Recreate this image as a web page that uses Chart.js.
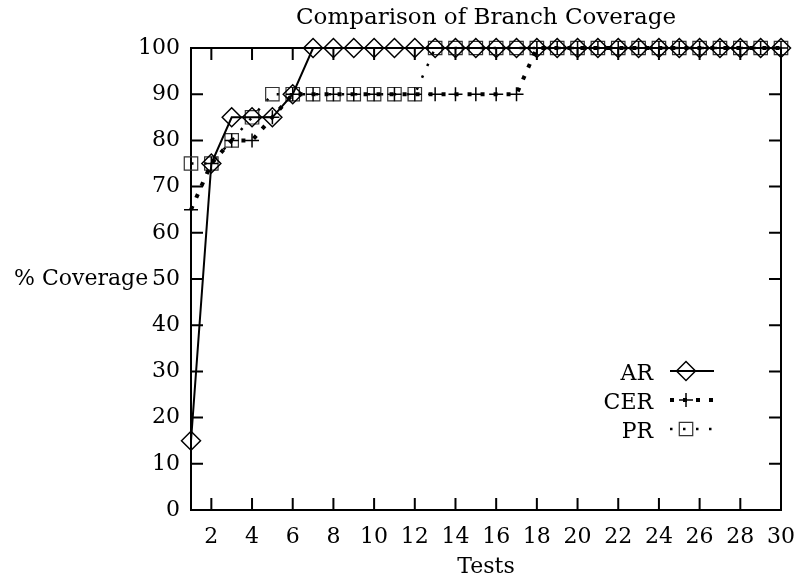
<!DOCTYPE html>
<html><head><meta charset="utf-8">
<script src="https://cdn.jsdelivr.net/npm/chart.js@4/dist/chart.umd.min.js"></script>
<style>html,body{margin:0;padding:0;background:#fff}#wrap{width:794px;height:580px}</style>
</head><body><div id="wrap"><canvas id="c" width="794" height="580"></canvas></div>
<script>
const chartTitle = 'Comparison of Branch Coverage';
const xAxisTitle = 'Tests';
const yAxisTitle = '% Coverage';
const tests = [1,2,3,4,5,6,7,8,9,10,11,12,13,14,15,16,17,18,19,20,21,22,23,24,25,26,27,28,29,30];
const seriesNames = ['AR','CER','PR'];
const arValues  = [15,75,85,85,85,90,100,100,100,100,100,100,100,100,100,100,100,100,100,100,100,100,100,100,100,100,100,100,100,100];
const cerValues = [65,75,80,80,85,90,90,90,90,90,90,90,90,90,90,90,90,100,100,100,100,100,100,100,100,100,100,100,100,100];
const prValues  = [75,75,80,85,90,90,90,90,90,90,90,90,100,100,100,100,100,100,100,100,100,100,100,100,100,100,100,100,100,100];
const xTickValues = [2,4,6,8,10,12,14,16,18,20,22,24,26,28,30];
const yTickValues = [0,10,20,30,40,50,60,70,80,90,100];

const FONT = '"DejaVu Serif", serif';
const pts = vals => tests.map((t, i) => ({x: t, y: vals[i]}));

function drawMarker(ctx, style, x, y, r, color, lw) {
  ctx.save();
  ctx.setLineDash([]);
  ctx.strokeStyle = color; ctx.lineWidth = lw;
  ctx.beginPath();
  if (style === 'rectRot') {
    ctx.moveTo(x - r, y); ctx.lineTo(x, y - r); ctx.lineTo(x + r, y); ctx.lineTo(x, y + r); ctx.closePath();
  } else if (style === 'cross') {
    ctx.moveTo(x - r, y); ctx.lineTo(x + r, y); ctx.moveTo(x, y - r); ctx.lineTo(x, y + r);
  } else if (style === 'rect') {
    const s = r * Math.SQRT1_2; ctx.rect(x - s, y - s, 2 * s, 2 * s);
  }
  ctx.stroke();
  ctx.restore();
}

const frameTicks = {
  id: 'frameTicks',
  beforeDatasetsDraw(chart) {
    const ctx = chart.ctx, ca = chart.chartArea;
    const xs = chart.scales.x, ys = chart.scales.y;
    const L = 12;
    ctx.save();
    ctx.strokeStyle = '#000'; ctx.lineWidth = 2; ctx.setLineDash([]);
    ctx.beginPath();
    yTickValues.forEach(v => {
      const py = ys.getPixelForValue(v);
      ctx.moveTo(ca.left, py); ctx.lineTo(ca.left + L, py);
      ctx.moveTo(ca.right, py); ctx.lineTo(ca.right - L, py);
    });
    xTickValues.forEach(v => {
      const px = xs.getPixelForValue(v);
      ctx.moveTo(px, ca.bottom); ctx.lineTo(px, ca.bottom - L);
      ctx.moveTo(px, ca.top); ctx.lineTo(px, ca.top + L);
    });
    ctx.stroke();
    ctx.strokeRect(ca.left, ca.top, ca.right - ca.left, ca.bottom - ca.top);
    ctx.restore();
  },
  afterDraw(chart) {
    const ctx = chart.ctx, ca = chart.chartArea;
    ctx.save();
    ctx.fillStyle = '#000';
    ctx.font = '22px ' + FONT;
    ctx.textAlign = 'left'; ctx.textBaseline = 'middle';
    ctx.fillText(yAxisTitle, 14, (ca.top + ca.bottom) / 2);
    // legend
    chart.data.datasets.forEach((ds, i) => {
      const y = ca.bottom - 139 + i * 29;
      ctx.textAlign = 'right'; ctx.textBaseline = 'middle';
      ctx.fillText(ds.label, ca.right - 128, y + 3);
      ctx.save();
      ctx.strokeStyle = ds.borderColor; ctx.lineWidth = ds.borderWidth;
      ctx.lineCap = 'butt';
      ctx.setLineDash(ds.borderDash || []);
      ctx.beginPath(); ctx.moveTo(ca.right - 111, y); ctx.lineTo(ca.right - 67, y); ctx.stroke();
      ctx.restore();
      drawMarker(ctx, ds.pointStyle, ca.right - 95, y, ds.pointRadius, ds.pointBorderColor, ds.pointBorderWidth);
    });
    ctx.restore();
  }
};

new Chart(document.getElementById('c'), {
  type: 'line',
  data: {
    datasets: [
      {label: seriesNames[0], data: pts(arValues), borderColor: '#000', borderWidth: 2, borderDash: [],
       pointStyle: 'rectRot', pointRadius: 9.5, pointHoverRadius: 9.5, pointBorderColor: '#000', pointBorderWidth: 1.5,
       pointBackgroundColor: 'rgba(0,0,0,0)', tension: 0, fill: false, clip: false},
      {label: seriesNames[1], data: pts(cerValues), borderColor: '#000', borderWidth: 4, borderDash: [4, 9],
       pointStyle: 'cross', pointRadius: 7, pointHoverRadius: 7, pointBorderColor: '#000', pointBorderWidth: 1.5,
       pointBackgroundColor: 'rgba(0,0,0,0)', tension: 0, fill: false, clip: false},
      {label: seriesNames[2], data: pts(prValues), borderColor: '#000', borderWidth: 2.5, borderDash: [2.5, 10.5],
       pointStyle: 'rect', pointRadius: 9.5, pointHoverRadius: 9.5, pointBorderColor: '#333', pointBorderWidth: 1.2,
       pointBackgroundColor: 'rgba(0,0,0,0)', tension: 0, fill: false, clip: false}
    ]
  },
  options: {
    responsive: false, animation: false, devicePixelRatio: 1,
    layout: {padding: {left: 0, right: 13, top: 0, bottom: 0}},
    plugins: {
      legend: {display: false}, tooltip: {enabled: false},
      title: {display: true, text: chartTitle, fullSize: false, color: '#000',
              font: {family: FONT, size: 23, weight: 'normal', lineHeight: 1.2},
              padding: {top: 4.2, bottom: 16.2}}
    },
    scales: {
      x: {type: 'linear', min: 1, max: 30,
          afterBuildTicks: s => { s.ticks = xTickValues.map(v => ({value: v})); },
          afterFit: s => { s.height = 70; s.paddingLeft = 0; s.paddingRight = 0; },
          grid: {display: false, drawTicks: false}, border: {display: false},
          ticks: {color: '#000', font: {family: FONT, size: 22}, padding: 14, maxRotation: 0, autoSkip: false},
          title: {display: true, text: xAxisTitle, color: '#000', font: {family: FONT, size: 22, lineHeight: 1.2}, padding: {top: 0, bottom: 0}}},
      y: {type: 'linear', min: 0, max: 100,
          afterBuildTicks: s => { s.ticks = yTickValues.map(v => ({value: v})); },
          afterFit: s => { s.width = 191; s.paddingTop = 0; s.paddingBottom = 0; },
          grid: {display: false, drawTicks: false}, border: {display: false},
          ticks: {color: '#000', font: {family: FONT, size: 22}, padding: 11, autoSkip: false}}
    }
  },
  plugins: [frameTicks]
});
</script></body></html>
